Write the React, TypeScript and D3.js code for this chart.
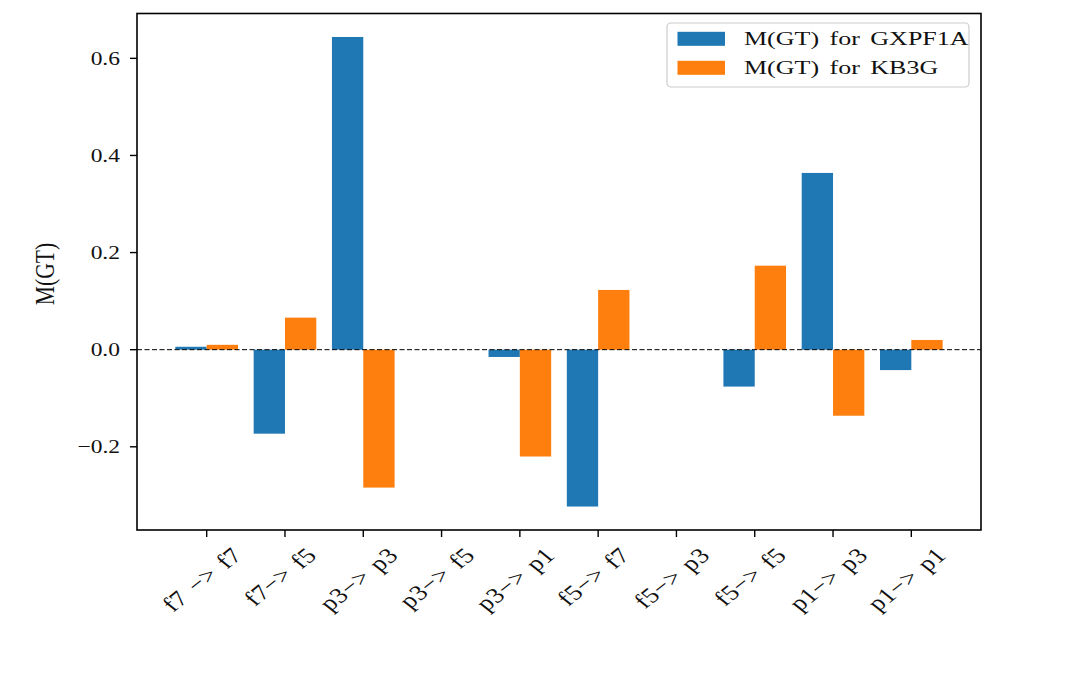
import React, { useMemo } from "react";
import * as d3 from "d3";

const categories = [
  "f7 −> f7",
  "f7−> f5",
  "p3−> p3",
  "p3−> f5",
  "p3−> p1",
  "f5−> f7",
  "f5−> p3",
  "f5−> f5",
  "p1−> p3",
  "p1−> p1",
];
const gxpf1a = [0.006, -0.173, 0.644, 0.0, -0.015, -0.323, 0.0, -0.076, 0.364, -0.042];
const kb3g = [0.01, 0.066, -0.284, 0.0, -0.22, 0.123, 0.0, 0.173, -0.136, 0.02];
const yTicks = [-0.2, 0.0, 0.2, 0.4, 0.6];
const seriesNames = ["M(GT) for GXPF1A", "M(GT) for KB3G"];
const colors = ["#1f77b4", "#ff7f0e"];
const yLabel = "M(GT)";

const FONT = '"Liberation Serif", "Times New Roman", serif';

export default function App() {
  const W = 1089;
  const H = 680;
  const left = 137;
  const right = 981;
  const top = 13.5;
  const bottom = 530;
  const n = categories.length;
  const barW = 0.4;
  const s = 0.8; // vertical squeeze of glyphs

  const xmin = -barW;
  const xmax = n - 1 + barW;
  const xpad = 0.05 * (xmax - xmin);
  const x = d3.scaleLinear().domain([xmin - xpad, xmax + xpad]).range([left, right]);

  const all = [...gxpf1a, ...kb3g, 0];
  const lo = d3.min(all) as number;
  const hi = d3.max(all) as number;
  const ypad = 0.05 * (hi - lo);
  const y = d3.scaleLinear().domain([lo - ypad, hi + ypad]).range([bottom, top]);
  const fmt = d3.format(".1f");

  const xFont = 27;
  const xWordSp = 3;
  const xLetterSp = 0.6;
  const widths = useMemo(() => {
    try {
      const c = document.createElement("canvas");
      const ctx = c.getContext("2d")!;
      ctx.font = `${xFont}px ${FONT}`;
      return categories.map(
        (t) =>
          ctx.measureText(t).width +
          (t.split(" ").length - 1) * xWordSp +
          t.length * xLetterSp
      );
    } catch (e) {
      return categories.map((t) => t.length * xFont * 0.47);
    }
  }, []);

  const series = [gxpf1a, kb3g];
  const bars: { x0: number; x1: number; y0: number; y1: number; c: string; k: string }[] = [];
  series.forEach((vals, si) => {
    vals.forEach((v, i) => {
      const xs = si === 0 ? i - barW : i;
      bars.push({
        x0: x(xs),
        x1: x(xs + barW),
        y0: y(Math.max(v, 0)),
        y1: y(Math.min(v, 0)),
        c: colors[si],
        k: `${si}-${i}`,
      });
    });
  });

  const tickLen = 7;
  const labelTop = bottom + tickLen + 8;

  return (
    <svg
      width={W}
      height={H}
      style={{ position: "absolute", left: 0, top: 0, background: "#fff" }}
      fontFamily={FONT}
    >
      <rect x={0} y={0} width={W} height={H} fill="#fff" />
      {bars.map((b) => (
        <rect
          key={b.k}
          x={b.x0}
          y={b.y0}
          width={b.x1 - b.x0}
          height={Math.max(0, b.y1 - b.y0)}
          fill={b.c}
        />
      ))}
      {/* zero line */}
      <line
        x1={left}
        x2={right}
        y1={y(0)}
        y2={y(0)}
        stroke="#000"
        strokeWidth={1}
        strokeDasharray="5,2.5"
      />
      {/* spines */}
      <rect
        x={left}
        y={top}
        width={right - left}
        height={bottom - top}
        fill="none"
        stroke="#000"
        strokeWidth={1.6}
      />
      {/* y ticks */}
      {yTicks.map((t) => {
        const yy = y(t);
        const F = 23.5;
        return (
          <g key={`yt${t}`}>
            <line x1={left - tickLen} x2={left} y1={yy} y2={yy} stroke="#000" strokeWidth={1.4} />
            <text
              transform={`translate(${left - tickLen - 10},${yy + 0.338 * F * s}) scale(1,${s})`}
              fontSize={F}
              textAnchor="end"
              fill="#111"
            >
              {fmt(t)}
            </text>
          </g>
        );
      })}
      {/* x ticks */}
      {categories.map((c, i) => {
        const xx = x(i);
        const w = widths[i];
        const h = 0.9 * xFont;
        const cy = labelTop + (s * (w + h)) / (2 * Math.SQRT2);
        return (
          <g key={`xt${i}`}>
            <line x1={xx} x2={xx} y1={bottom} y2={bottom + tickLen} stroke="#000" strokeWidth={1.4} />
            <text
              transform={`translate(${xx - 4},${cy}) scale(1,${s}) rotate(-45)`}
              fontSize={xFont}
              textAnchor="middle"
              y={0.3 * xFont}
              fill="#111"
              style={{ wordSpacing: `${xWordSp}px`, letterSpacing: `${xLetterSp}px` }}
            >
              {c}
            </text>
          </g>
        );
      })}
      {/* y label */}
      <text
        transform={`translate(${45 + 0.33 * 26},${274}) scale(1,${s}) rotate(-90)`}
        fontSize={27}
        textAnchor="middle"
        fill="#111"
      >
        {yLabel}
      </text>
      {/* legend */}
      <rect
        x={667}
        y={23}
        width={302}
        height={64}
        rx={4}
        ry={4}
        fill="#fff"
        fillOpacity={0.8}
        stroke="#cccccc"
        strokeWidth={1.2}
      />
      {seriesNames.map((name, i) => {
        const cy = 38.8 + i * 29;
        const F = 26;
        return (
          <g key={`lg${i}`}>
            <rect x={677.5} y={cy - 7} width={47.5} height={14} fill={colors[i]} />
            <text
              transform={`translate(744,${cy + 0.331 * F * 0.74}) scale(1,0.74)`}
              fontSize={F}
              fill="#111"
              style={{ wordSpacing: "4px" }}
            >
              {name}
            </text>
          </g>
        );
      })}
    </svg>
  );
}
